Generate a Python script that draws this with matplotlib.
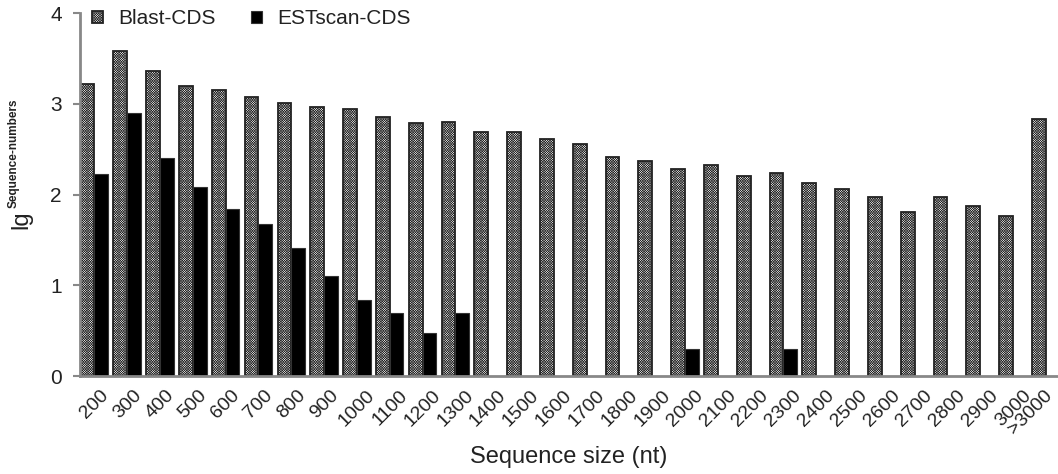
import matplotlib
matplotlib.use("Agg")
import matplotlib.pyplot as plt
import matplotlib.transforms as mtransforms
import numpy as np

categories = ["200", "300", "400", "500", "600", "700", "800", "900", "1000", "1100",
              "1200", "1300", "1400", "1500", "1600", "1700", "1800", "1900", "2000", "2100",
              "2200", "2300", "2400", "2500", "2600", "2700", "2800", "2900", "3000", ">3000"]
blast_cds = [3.22, 3.58, 3.36, 3.20, 3.15, 3.08, 3.01, 2.97, 2.95, 2.86,
             2.79, 2.80, 2.69, 2.69, 2.61, 2.56, 2.41, 2.37, 2.28, 2.33,
             2.21, 2.24, 2.13, 2.06, 1.97, 1.81, 1.97, 1.87, 1.76, 2.83]
estscan_cds = [2.23, 2.90, 2.40, 2.08, 1.84, 1.68, 1.41, 1.10, 0.835, 0.69,
               0.475, 0.69, 0, 0, 0, 0, 0, 0, 0.30, 0,
               0, 0.30, 0, 0, 0, 0, 0, 0, 0, 0]
yticks = [0, 1, 2, 3, 4]

plt.rcParams['font.family'] = ['Liberation Sans', 'DejaVu Sans']
plt.rcParams['hatch.linewidth'] = 0.45
plt.rcParams['hatch.color'] = '#333333'

W, H = 1058, 474
fig = plt.figure(figsize=(W / 100, H / 100), dpi=100)
ax = fig.add_axes([80 / W, 1 - 376 / H, 1 - 80 / W, (376 - 13.3) / H])

x = np.arange(len(categories))
bw = 0.42
ax.bar(x - bw / 2, blast_cds, width=bw, facecolor='white', edgecolor='#222222',
       linewidth=1.3, hatch='xxxxxxxxxxxxxx', label='Blast-CDS')
est = np.array(estscan_cds)
m = est > 0
ax.bar(x[m] + bw / 2, est[m], width=bw, facecolor='black', edgecolor='#333333',
       linewidth=0.8, label='ESTscan-CDS')

ax.set_xlim(-0.44, 29.37)
ax.set_ylim(0, 4)
ax.set_yticks(yticks)
ax.set_yticklabels([str(t) for t in yticks], fontsize=15, color='#222222')
ax.set_xticks(x)
ax.set_xticklabels(categories, rotation=45, fontsize=14, color='#222222')
ax.tick_params(axis='x', length=0, pad=8)
ax.tick_params(axis='y', length=5, width=1.5, color='#888888', pad=8)
last = ax.get_xticklabels()[-1]
last.set_transform(last.get_transform() +
                   mtransforms.ScaledTranslation(-16 / 100, 0, fig.dpi_scale_trans))

for s in ['top', 'right']:
    ax.spines[s].set_visible(False)
for s in ['left', 'bottom']:
    ax.spines[s].set_color('#888888')
    ax.spines[s].set_linewidth(2)

ax.set_xlabel('Sequence size (nt)', fontsize=17, color='#222222', labelpad=6)

fig.text(21 / W, 1 - 220 / H, 'lg', rotation=90, ha='center', va='center',
         fontsize=17, color='#222222')
fig.text(14 / W, 1 - 208 / H, 'Sequence-numbers', rotation=90, ha='center', va='bottom',
         fontsize=8.5, fontweight='bold', color='#222222')

leg = ax.legend(loc='center left', bbox_to_anchor=(92 / W, 1 - 19 / H),
                bbox_transform=fig.transFigure, ncol=2, frameon=False,
                fontsize=15, handlelength=0.55, handleheight=0.55,
                handletextpad=0.7, columnspacing=1.7, borderpad=0, borderaxespad=0)
for t in leg.get_texts():
    t.set_color('#222222')

fig.savefig('out.png', dpi=100)
